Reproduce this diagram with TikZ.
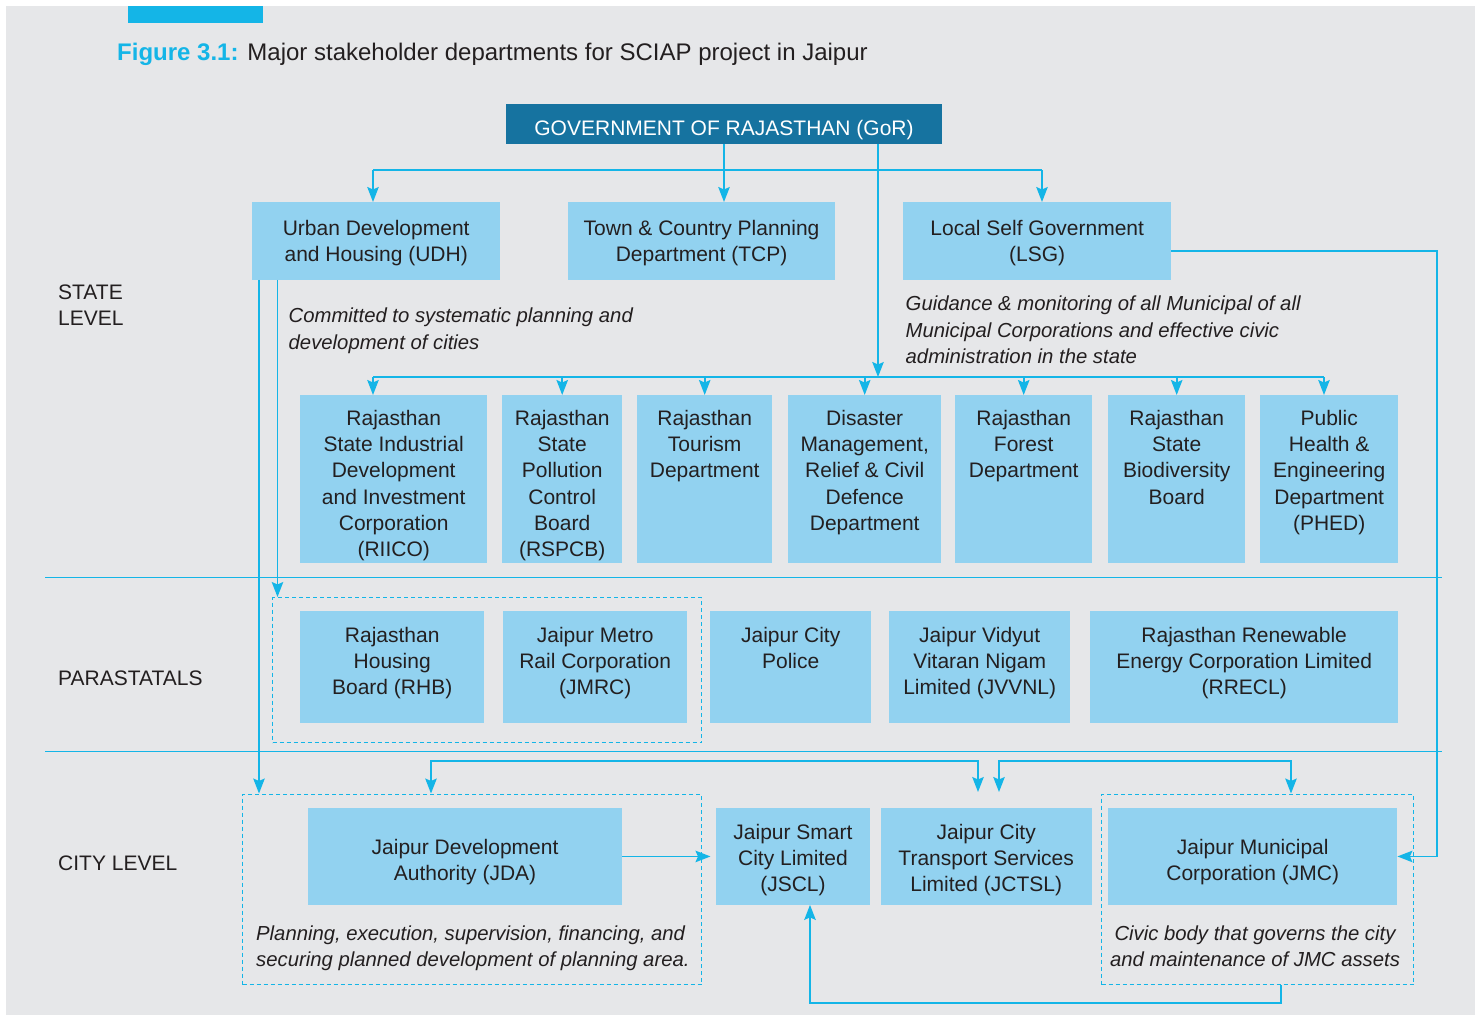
\documentclass[tikz,border=0pt]{standalone}
\usepackage{fontspec}
\setmainfont{Liberation Sans}
\usetikzlibrary{arrows.meta}
\definecolor{bgc}{HTML}{E6E7E9}
\definecolor{lnc}{HTML}{14B5E7}
\definecolor{boxc}{HTML}{92D2F0}
\definecolor{gorc}{HTML}{1673A0}
\definecolor{txtc}{HTML}{231F20}
\newcommand{\mytopbox}[4]{\parbox[c][#1][t]{#2}{\centering\vspace*{#3}\strut #4}}
\begin{document}
\begin{tikzpicture}[x=1pt,y=-1pt,
  every node/.style={text=txtc, inner sep=0pt},
  node font=\fontsize{21}{26.3}\selectfont,
  box/.style={fill=boxc, anchor=north west, align=center},
  grp/.style={draw=lnc, line width=1.3pt, dash pattern=on 4pt off 3pt, anchor=north west},
  ln/.style={draw=lnc, line width=1.6pt},
  arr/.style={ln, -{Stealth[length=15pt,width=11.5pt,inset=2.5pt]}},
  arrb/.style={ln, {Stealth[length=15pt,width=11.5pt,inset=2.5pt]}-{Stealth[length=15pt,width=11.5pt,inset=2.5pt]}},
  note/.style={font=\fontsize{20.3}{26.3}\selectfont\itshape, align=left, anchor=north west},
]
\useasboundingbox (0,0) rectangle (1481,1015);
\fill[bgc] (6,6) rectangle (1475,1015);
\fill[lnc] (128,6) rectangle (263,23);

% title
\node[anchor=base west, font=\fontsize{24}{28}\selectfont] (title) at (117,60)
  {\textcolor{lnc}{\bfseries Figure 3.1:} Major stakeholder departments for SCIAP project in Jaipur};

% separators
\draw[ln] (45,577.5) -- (1442,577.5);
\draw[ln] (45,751.5) -- (1442,751.5);

% level labels
\node[anchor=north west, align=left] (lvS) at (58,281) {\strut STATE\\LEVEL};
\node[anchor=base west] (lvP) at (58,685) {PARASTATALS};
\node[anchor=base west] (lvC) at (58,870.5) {CITY LEVEL};

% GoR
\node[box, fill=gorc, text=white] (gor) at (506,104) {\mytopbox{39.7pt}{435.6pt}{12.6pt}{GOVERNMENT OF RAJASTHAN (GoR)}};

% state departments
\node[box] (udh) at (252,202) {\mytopbox{77.5pt}{248pt}{14.6pt}{Urban Development\\and Housing (UDH)}};
\node[box] (tcp) at (568,202) {\mytopbox{77.5pt}{266.7pt}{14.6pt}{Town \& Country Planning\\Department (TCP)}};
\node[box] (lsg) at (903,202) {\mytopbox{77.5pt}{268pt}{14.6pt}{Local Self Government\\(LSG)}};

\node[box] (riico) at (300,395) {\mytopbox{167.5pt}{187pt}{11.6pt}{Rajasthan\\State Industrial\\Development\\and Investment\\Corporation\\(RIICO)}};
\node[box] (rspcb) at (502,395) {\mytopbox{167.5pt}{120pt}{11.6pt}{Rajasthan\\State\\Pollution\\Control\\Board\\(RSPCB)}};
\node[box] (tour) at (637,395) {\mytopbox{167.5pt}{135pt}{11.6pt}{Rajasthan\\Tourism\\Department}};
\node[box] (dis) at (788,395) {\mytopbox{167.5pt}{153pt}{11.6pt}{Disaster\\Management,\\Relief \& Civil\\Defence\\Department}};
\node[box] (forest) at (955,395) {\mytopbox{167.5pt}{137pt}{11.6pt}{Rajasthan\\Forest\\Department}};
\node[box] (bio) at (1108,395) {\mytopbox{167.5pt}{137pt}{11.6pt}{Rajasthan\\State\\Biodiversity\\Board}};
\node[box] (phed) at (1260,395) {\mytopbox{167.5pt}{138pt}{11.6pt}{Public\\Health \&\\Engineering\\Department\\(PHED)}};

% notes state
\node[note] (n1) at (288.5,304.3) {\strut Committed to systematic planning and\\development of cities};
\node[note] (n2) at (905.5,292.3) {\strut Guidance \& monitoring of all Municipal of all\\Municipal Corporations and effective civic\\administration in the state};

% parastatals
\node[grp, minimum width=429pt, minimum height=145pt] (paragrp) at (272,597) {};
\node[box] (rhb) at (300,611) {\mytopbox{111.5pt}{184pt}{12.6pt}{Rajasthan\\Housing\\Board (RHB)}};
\node[box] (jmrc) at (503,611) {\mytopbox{111.5pt}{184pt}{12.6pt}{Jaipur Metro\\Rail Corporation\\(JMRC)}};
\node[box] (police) at (710,611) {\mytopbox{111.5pt}{161pt}{12.6pt}{Jaipur City\\Police}};
\node[box] (jvvnl) at (889,611) {\mytopbox{111.5pt}{181pt}{12.6pt}{Jaipur Vidyut\\Vitaran Nigam\\Limited (JVVNL)}};
\node[box] (rrecl) at (1090,611) {\mytopbox{111.5pt}{308pt}{12.6pt}{Rajasthan Renewable\\Energy Corporation Limited\\(RRECL)}};

% city level
\node[grp, minimum width=459pt, minimum height=190.5pt] (jdagrp) at (242,793.5) {};
\node[grp, minimum width=312pt, minimum height=190.5pt] (jmcgrp) at (1101,793.5) {};
\node[box] (jda) at (308,808) {\mytopbox{96.5pt}{313.7pt}{27.9pt}{Jaipur Development\\Authority (JDA)}};
\node[box] (jscl) at (715.5,808) {\mytopbox{96.5pt}{154.5pt}{12.6pt}{Jaipur Smart\\City Limited\\(JSCL)}};
\node[box] (jctsl) at (880.5,808) {\mytopbox{96.5pt}{211pt}{12.6pt}{Jaipur City\\Transport Services\\Limited (JCTSL)}};
\node[box] (jmc) at (1108,808) {\mytopbox{96.5pt}{289pt}{27.9pt}{Jaipur Municipal\\Corporation (JMC)}};

\node[note] (n3) at (256,921.6) {\strut Planning, execution, supervision, financing, and\\securing planned development of planning area.};
\node[note, anchor=north, align=center] (n4) at (1255,921.6) {\strut Civic body that governs the city\\and maintenance of JMC assets};

% connectors: GoR to state
\coordinate (bA) at (373,170);
\coordinate (bB) at (1042,170);
\draw[arr] (gor.south) -- (gor.south |- tcp.north);
\draw[ln] (bA) -- (bB);
\draw[arr] (bA) -- (bA |- udh.north);
\draw[arr] (bB) -- (bB |- lsg.north);

\coordinate (sA) at (373,377);
\coordinate (sB) at (1324,377);
\coordinate (sM) at (878,377);
\draw[arr] (gor.south -| sM) -- (sM);
\draw[ln] (sA) -- (sB);
\draw[arr] (sA) -- (sA |- riico.north);
\draw[arr] (rspcb.north |- sA) -- (rspcb.north);
\draw[arr] (tour.north |- sA) -- (tour.north);
\draw[arr] (dis.north |- sA) -- (dis.north);
\draw[arr] (forest.north |- sA) -- (forest.north);
\draw[arr] (bio.north |- sA) -- (bio.north);
\draw[arr] (sB) -- (sB |- phed.north);

% LSG to JMC
\coordinate (rX) at (1437,251);
\draw[arr] (lsg.east |- rX) -- (rX) -- (rX |- jmc.east) -- (jmc.east);

% UDH down
\coordinate (uA) at (259,280);
\coordinate (uB) at (277.5,280);
\draw[arr] (udh.south -| uA) -- (uA |- jdagrp.north);
\draw[arr] (udh.south -| uB) -- (uB |- paragrp.north);

% JDA to JSCL
\draw[arr] (jda.east) -- ([xshift=-5pt]jscl.west);

% top city connectors
\coordinate (cA) at (431,761);
\coordinate (cB) at (978,761);
\coordinate (cC) at (999,761);
\coordinate (cD) at (1291,761);
\coordinate (tL) at (978,792);
\coordinate (tR) at (999,792);
\draw[arrb] (cA |- jdagrp.north) -- (cA) -- (cB) -- (tL);
\draw[arrb] (cD |- jmcgrp.north) -- (cD) -- (cC) -- (tR);

% bottom JMC to JSCL
\coordinate (dA) at (1281,1003);
\coordinate (dB) at (810,1003);
\draw[arr] (jmcgrp.south -| dA) -- (dA) -- (dB) -- (dB |- jscl.south);
\end{tikzpicture}
\end{document}
